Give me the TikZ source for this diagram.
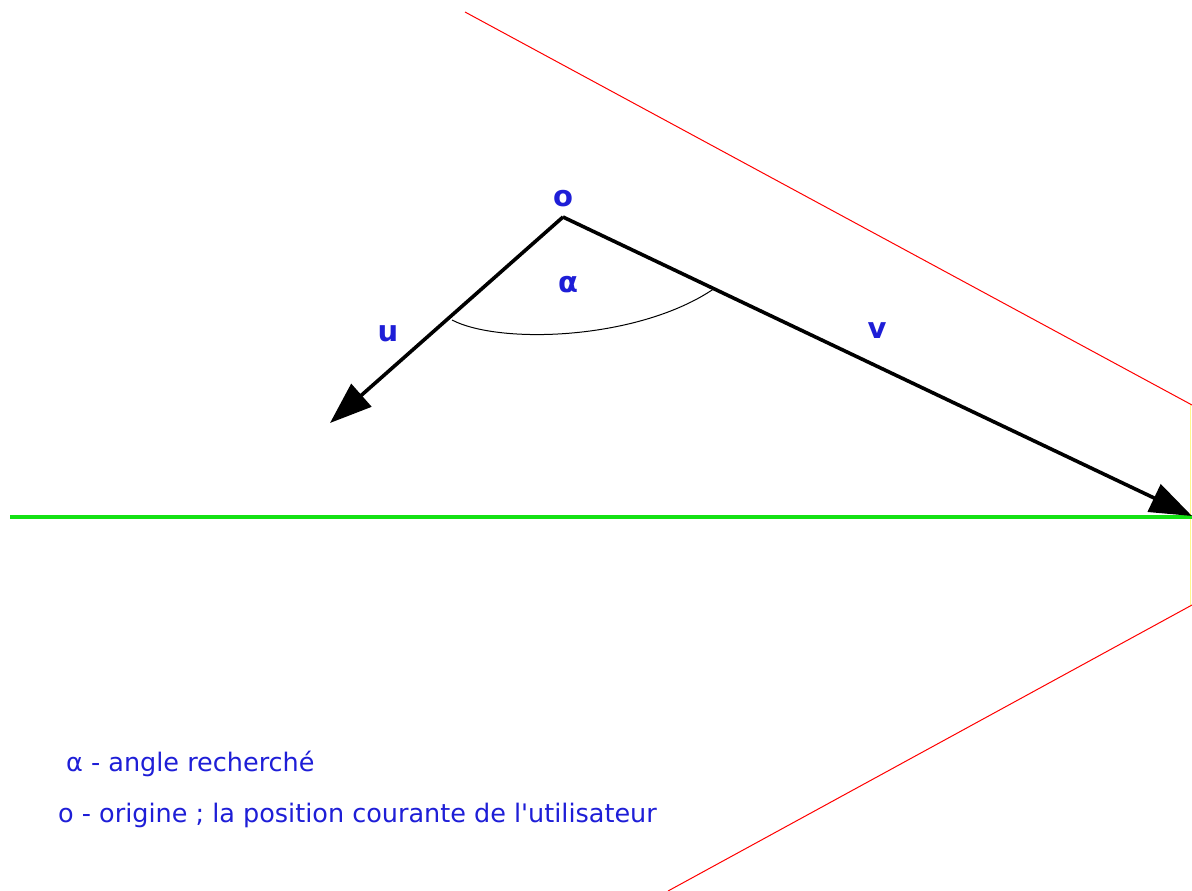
\documentclass[tikz,border=0pt]{standalone}
\usepackage{fontspec}
\setmainfont{DejaVu Sans}
\usetikzlibrary{arrows.meta}
\definecolor{labelblue}{RGB}{30,30,215}
\definecolor{axisgreen}{RGB}{20,225,20}
\begin{document}
\begin{tikzpicture}[x=1pt, y=-1pt,
    vecline/.style={line width=3.6pt, -{Triangle[length=42pt, width=30pt]}},
    lbl/.style={text=labelblue, font=\fontsize{29}{34}\selectfont\bfseries, inner sep=0pt},
    legend/.style={text=labelblue, font=\fontsize{25.5}{30}\selectfont, anchor=west, inner sep=0pt},
    bound/.style={red, line width=1pt}]
\useasboundingbox (0,0) rectangle (1192,891);
\fill[white] (0,0) rectangle (1192,891);

\coordinate (o) at (563,217);
\coordinate (utip) at (330,423);
\coordinate (vtip) at (1192,516);
\coordinate (greenL) at (10,517);
\coordinate (greenR) at (1192,517);
\coordinate (redA) at (465,12);
\coordinate (redB) at (1192,405);
\coordinate (redC) at (1192,605);
\coordinate (redD) at (668,891);
\coordinate (arcU) at (452,320);
\coordinate (arcV) at (715,288);

\draw[bound] (redA) -- (redB);
\draw[bound] (redC) -- (redD);
\draw[yellow!45, line width=0.8pt] (1190.5,405) -- (1190.5,605);
\draw[axisgreen, line width=3.6pt] (greenL) -- (greenR);

\draw[line width=1pt] (arcU) .. controls (500,345) and (640,340) .. (arcV);
\draw[vecline] (o) -- (utip);
\draw[vecline] (o) -- (vtip);

\node[lbl, anchor=south] (olabel) at (563,207) {o};
\node[lbl] (alpha) at (568,285) {α};
\node[lbl] (ulabel) at (388,334) {u};
\node[lbl] (vlabel) at (877,331) {v};

\node[legend] (leg1) at (66,764) {α - angle recherché};
\node[legend] (leg2) at (58,815) {o - origine ; la position courante de l\textquotesingle utilisateur};
\end{tikzpicture}
\end{document}
